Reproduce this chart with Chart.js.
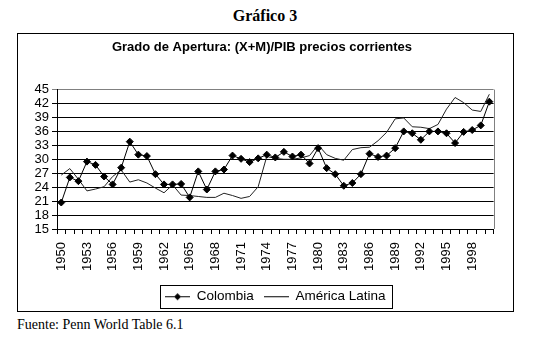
<!DOCTYPE html>
<html>
<head>
<meta charset="utf-8">
<script src="https://cdn.jsdelivr.net/npm/chart.js@4/dist/chart.umd.min.js"></script>
<style>
  body { margin: 0; background: #fff; width: 547px; height: 343px; position: relative; font-family: "Liberation Serif", serif; color: #000; }
  #titulo { position: absolute; left: 0; top: 7px; width: 530px; text-align: center; font-weight: bold; font-size: 16px; }
  #marco { position: absolute; left: 17px; top: 33px; width: 495px; height: 277px; border: 1px solid #000; }
  #fuente { position: absolute; left: 17px; top: 317px; font-size: 14px; }
</style>
</head>
<body>
<div id="titulo">Gráfico 3</div>
<div id="marco"><canvas id="grafico" width="495" height="277"></canvas></div>
<div id="fuente">Fuente: Penn World Table 6.1</div>
<script>
// años 1950-2000
const years = [];
for (let y = 1950; y <= 2000; y++) years.push(String(y));

const colombia = [
  20.7, 26.1, 25.3, 29.5, 28.8, 26.3, 24.6, 28.2, 33.8, 31.0,
  30.7, 26.8, 24.6, 24.6, 24.7, 21.8, 27.4, 23.5, 27.4, 27.8,
  30.8, 30.1, 29.4, 30.2, 31.0, 30.4, 31.6, 30.6, 31.0, 29.1,
  32.4, 28.1, 26.8, 24.3, 24.9, 26.8, 31.2, 30.5, 30.8, 32.4,
  36.0, 35.6, 34.2, 36.0, 36.0, 35.6, 33.5, 35.9, 36.3, 37.3,
  42.4
];

const americaLatina = [
  26.6, 28.0, 25.7, 23.2, 23.6, 24.1, 26.3, 27.7, 25.1, 25.6,
  24.9, 23.8, 22.8, 24.5, 22.3, 22.2, 22.0, 21.8, 21.8, 22.7,
  22.2, 21.6, 22.0, 24.1, 30.6, 30.2, 30.0, 30.0, 30.3, 30.8,
  33.1, 31.0, 30.2, 29.8, 32.1, 32.5, 32.6, 34.0, 35.8, 38.7,
  38.9, 37.0, 36.9, 36.6, 37.5, 40.8, 43.3, 42.2, 40.6, 40.3,
  44.0
];

const seriesNames = ['Colombia', 'América Latina'];
const yMin = 15, yMax = 45, yStep = 3;

// iconos de la leyenda: linea con rombo / linea sola
function legendIcon(withDiamond) {
  const c = document.createElement('canvas');
  c.width = 25; c.height = 9;
  const g = c.getContext('2d');
  g.strokeStyle = '#000';
  g.lineWidth = 1;
  g.beginPath(); g.moveTo(0, 4.5); g.lineTo(25, 4.5); g.stroke();
  if (withDiamond) {
    g.fillStyle = '#000';
    g.beginPath();
    g.moveTo(12.5, 1); g.lineTo(16, 4.5); g.lineTo(12.5, 8); g.lineTo(9, 4.5);
    g.closePath(); g.fill();
  }
  return c;
}
const icons = [legendIcon(true), legendIcon(false)];

const frame = {
  id: 'frame',
  beforeDatasetsDraw(chart) {
    const a = chart.chartArea, ctx = chart.ctx;
    ctx.save();
    ctx.strokeStyle = '#808080';
    ctx.lineWidth = 1;
    ctx.beginPath();
    ctx.moveTo(Math.round(a.right) + 0.5, a.top);
    ctx.lineTo(Math.round(a.right) + 0.5, a.bottom);
    ctx.stroke();
    ctx.restore();
  },
  afterDraw(chart) {
    const hb = chart.legend.legendHitBoxes;
    if (!hb || !hb.length) return;
    const last = hb[hb.length - 1];
    const l = Math.round(hb[0].left - 5), r = Math.round(last.left + last.width + 6);
    const t = Math.round(hb[0].top - 5), b = Math.round(hb[0].top + 18);
    const ctx = chart.ctx;
    ctx.save();
    ctx.strokeStyle = '#000';
    ctx.lineWidth = 1;
    ctx.strokeRect(l + 0.5, t + 0.5, r - l, b - t);
    ctx.restore();
  }
};

new Chart(document.getElementById('grafico').getContext('2d'), {
  type: 'line',
  data: {
    labels: years,
    datasets: [{
      label: seriesNames[0],
      data: colombia,
      borderColor: '#000',
      borderWidth: 1,
      pointStyle: 'rectRot',
      pointRadius: 3.5,
      pointBackgroundColor: '#000',
      pointBorderColor: '#000',
      pointBorderWidth: 1,
      tension: 0
    }, {
      label: seriesNames[1],
      data: americaLatina,
      borderColor: '#222',
      borderWidth: 1,
      pointRadius: 0,
      tension: 0
    }]
  },
  options: {
    responsive: false,
    animation: false,
    devicePixelRatio: 1,
    layout: { padding: { left: 0, right: 7, top: 0, bottom: 0 } },
    plugins: {
      tooltip: { enabled: false },
      title: {
        display: true,
        text: 'Grado de Apertura: (X+M)/PIB precios corrientes',
        color: '#000',
        font: { family: 'Liberation Sans', size: 13, weight: 'bold' },
        padding: { top: 6, bottom: 34 }
      },
      legend: {
        position: 'bottom',
        fullSize: false,
        maxHeight: 31,
        labels: {
          color: '#000',
          font: { family: 'Liberation Sans', size: 13.5 },
          usePointStyle: true,
          pointStyleWidth: 25,
          padding: 10,
          generateLabels: chart => Chart.defaults.plugins.legend.labels.generateLabels(chart)
            .map((it, i) => { it.pointStyle = icons[i]; return it; })
        }
      }
    },
    scales: {
      x: {
        offset: true,
        afterFit: s => { s.height = 51; },
        grid: { offset: true, drawOnChartArea: false, tickLength: 5, color: '#000' },
        border: { color: '#000' },
        ticks: {
          autoSkip: false,
          minRotation: 90,
          maxRotation: 90,
          padding: 8,
          color: '#000',
          font: { family: 'Liberation Sans', size: 13 },
          callback: (v, i) => (i % 3 === 0 ? years[i] : '')
        }
      },
      y: {
        min: yMin,
        max: yMax,
        afterFit: s => { s.width = 39; },
        grid: {
          color: c => (c.tick && c.tick.value === yMax ? '#808080' : '#000'),
          tickLength: 5
        },
        border: { color: '#000' },
        ticks: {
          stepSize: yStep,
          autoSkip: false,
          padding: 3,
          color: '#000',
          font: { family: 'Liberation Sans', size: 13 }
        }
      }
    }
  },
  plugins: [frame]
});
</script>
</body>
</html>
